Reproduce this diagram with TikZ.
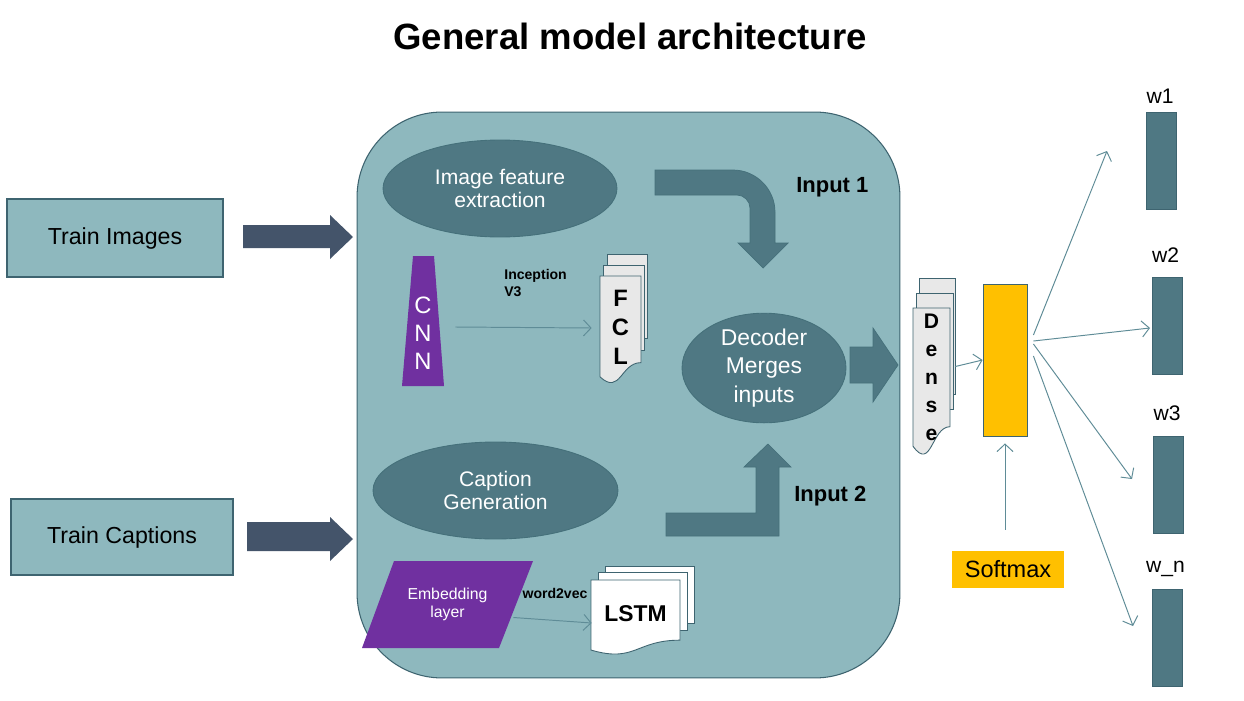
\documentclass[tikz,border=0pt]{standalone}
\usepackage{fontspec}
\setmainfont{Liberation Sans}
\usetikzlibrary{arrows.meta, shapes.geometric, calc, fit, positioning}
\definecolor{panelfill}{HTML}{8EB8BE}
\definecolor{panelline}{HTML}{3E6470}
\definecolor{blobfill}{HTML}{4F7883}
\definecolor{blobline}{HTML}{45707A}
\definecolor{feedfill}{HTML}{44546A}
\definecolor{slabfill}{HTML}{7030A0}
\definecolor{softfill}{HTML}{FFC000}
\definecolor{sheetfill}{HTML}{E8E8E8}
\definecolor{linkline}{HTML}{5F8C97}
\tikzset{
  trainbox/.style={rectangle, draw=panelline, fill=panelfill, line width=0.6pt,
                   font=\fontsize{13.2}{16}\selectfont},
  panel/.style={rectangle, rounded corners=1.7cm, draw=panelline, fill=panelfill,
                line width=0.6pt},
  blob/.style={ellipse, draw=blobline, fill=blobfill, line width=0.5pt, text=white,
               align=center, inner sep=0pt},
  slab/.style={fill=slabfill},
  slabtext/.style={text=white, align=center, inner sep=0pt},
  sheet/.style={draw=panelline, line width=0.5pt},
  sheetletters/.style={font=\fontsize{13.5}{16.5}\selectfont\bfseries, align=center, inner sep=0pt},
  fatarrow/.style={fill=blobfill, draw=blobline, line width=0.4pt},
  feedarrow/.style={fill=feedfill},
  inlabel/.style={font=\fontsize{12.5}{15}\selectfont\bfseries, anchor=west, inner sep=0pt},
  tinylabel/.style={font=\fontsize{8}{9.7}\selectfont\bfseries, inner sep=0pt},
  wbox/.style={rectangle, draw=panelline, fill=blobfill, line width=0.5pt,
               minimum width=0.6cm, minimum height=1.94cm},
  wlabel/.style={font=\fontsize{12}{14}\selectfont, anchor=base, inner sep=0pt},
  link/.style={-{Straight Barb[length=1.5mm, width=3.2mm]}, draw=linkline, line width=0.55pt},
}
% one page of a stack: x, y (top left), width, height, fill
\newcommand\pagesheet[5]{%
  \filldraw[sheet, fill=#5] (#1,#2) -- (#1+#3,#2) -- (#1+#3,#2+0.802*#4)
    .. controls (#1+0.5*#3,#2+0.802*#4) and (#1+0.5*#3,#2+1.107*#4) .. (#1,#2+0.934*#4) -- cycle;}

\begin{document}
\begin{tikzpicture}[x=0.02cm, y=-0.02cm]
\useasboundingbox (0,0) rectangle (1244,700);
\fill[white] (0,0) rectangle (1244,700);

\node[font=\fontsize{20.8}{24}\selectfont\bfseries] (title) at (630,36) {General model architecture};

% Inputs on the left
\node[trainbox, minimum width=4.32cm, minimum height=1.56cm] (trainimg) at (115,238) {Train Images};
\node[trainbox, minimum width=4.44cm, minimum height=1.52cm] (traincap) at (122,537) {Train Captions};
\fill[feedarrow] (243,225) -- (330,225) -- (330,215) -- (353,237) -- (330,259) -- (330,248) -- (243,248) -- cycle;
\fill[feedarrow] (247,522) -- (330,522) -- (330,517) -- (353,539) -- (330,561) -- (330,551) -- (247,551) -- cycle;

% Model panel
\node[panel, minimum width=10.86cm, minimum height=11.32cm] (model) at (628.5,395) {};

\node[blob, minimum width=4.68cm, minimum height=1.94cm, font=\fontsize{12}{13}\selectfont]
  (imgfeat) at (500,188.5) {Image feature\\extraction};
\node[blob, minimum width=4.9cm, minimum height=1.94cm, font=\fontsize{12}{13.5}\selectfont]
  (capgen) at (495.5,490.5) {Caption\\Generation};
\node[blob, minimum width=3.28cm, minimum height=2.08cm, font=\fontsize{13}{16}\selectfont]
  (decoder) at (764,368) {Decoder\\Merges\\inputs};

% Image branch
\fill[slab] (413,256) -- (434,256) -- (444,386) -- (402,386) -- cycle;
\node[minimum width=0.84cm, minimum height=2.6cm, inner sep=0pt] (cnn) at (423,321) {};
\node[slabtext, font=\fontsize{13.5}{16}\selectfont] (cnntext) at ($(cnn)+(0,12)$) {C\\N\\N};
\node[tinylabel, anchor=north west, align=left] (inception) at (504,269) {Inception\\V3};
\filldraw[sheet, fill=sheetfill] (607,254) rectangle (647,338);
\filldraw[sheet, fill=sheetfill] (603,265) rectangle (644,350);
\pagesheet{600}{276}{41}{108}{sheetfill}
\node[sheetletters, minimum width=0.82cm] (fcl) at (620.5,327) {F\\C\\L};
\draw[link] ($(cnn.east)+(11,6)$) -- ($(fcl.west)+(-8,1)$);

% Caption branch
\fill[slab] (394,561) -- (533,561) -- (499,648) -- (362,648) -- cycle;
\node[slabtext, minimum width=3.42cm, minimum height=1.74cm, font=\fontsize{9}{10.2}\selectfont]
  (embed) at (447.5,604.5) {Embedding\\layer};
\node[tinylabel] (w2v) at (555,593) {word2vec};
\filldraw[sheet, fill=white] (605,566) rectangle (694,623);
\filldraw[sheet, fill=white] (598,572) rectangle (687,630);
\pagesheet{591}{580}{89}{75}{white}
\node[sheetletters, font=\fontsize{13}{16}\selectfont\bfseries, minimum width=1.78cm] (lstm) at (635.5,614) {LSTM};
\draw[link] ($(embed.east)+(-20,13)$) -- ($(lstm.west)+(1,9)$);

% Merge arrows
\filldraw[fatarrow] (655,170) -- (733,170) .. controls (756,170) and (775,189) .. (775,212)
  -- (775,243) -- (788,243) -- (763,268) -- (738,243) -- (750,243) -- (750,208)
  .. controls (750,201) and (744,195) .. (737,195) -- (655,195) -- cycle;
\filldraw[fatarrow] (666,513) -- (756,513) -- (756,467) -- (744,467) -- (768,444)
  -- (791,467) -- (779,467) -- (779,536) -- (666,536) -- cycle;
\filldraw[fatarrow] (850,347) -- (873,347) -- (873,328) -- (898,365) -- (873,402)
  -- (873,383) -- (850,383) -- cycle;
\node[inlabel] (in1) at (796,187) {Input 1};
\node[inlabel] (in2) at (794,496) {Input 2};

% Dense and softmax
\filldraw[sheet, fill=sheetfill] (919,278) rectangle (955,394);
\filldraw[sheet, fill=sheetfill] (916,293) rectangle (953,409);
\pagesheet{913}{308}{37}{148}{sheetfill}
\node[sheetletters, font=\fontsize{12}{16}\selectfont\bfseries, minimum width=0.74cm]
  (dense) at (931.5,377.5) {D\\e\\n\\s\\e};
\node[rectangle, draw=panelline, fill=softfill, line width=0.5pt, minimum width=0.88cm,
      minimum height=3.04cm] (softlayer) at (1005,360) {};
\node[fill=softfill, minimum width=2.24cm, minimum height=0.74cm, inner sep=0pt,
      font=\fontsize{13.4}{16}\selectfont] (softmax) at (1008,569.5) {Softmax};
\draw[link] ($(dense.east)+(5,-11)$) -- (softlayer.west);
\draw[link, shorten <=0.42cm, shorten >=0.14cm] (softmax.north -| softlayer) -- (softlayer.south);

% Output words
\coordinate (t1) at (1107,151);
\coordinate (t2) at (1150,328);
\coordinate (t3) at (1132,479);
\coordinate (t4) at (1133,626);
\foreach \n/\x/\y/\b/\t in {w1/1161.5/160.5/103/w1, w2/1167/325.5/262/w2,
                            w3/1168.5/484.5/420/w3, wn/1167/638/572/w\_n} {
  \node[wbox] (\n) at (\x,\y) {};
  \node[wlabel] at (\x-1.5,\b) {\t};
}
\foreach \dy/\tip in {-25/t1, -19/t2, -16/t3, -4/t4}
  \draw[link] ($(softlayer.east)+(6,\dy)$) -- (\tip);

\end{tikzpicture}
\end{document}
